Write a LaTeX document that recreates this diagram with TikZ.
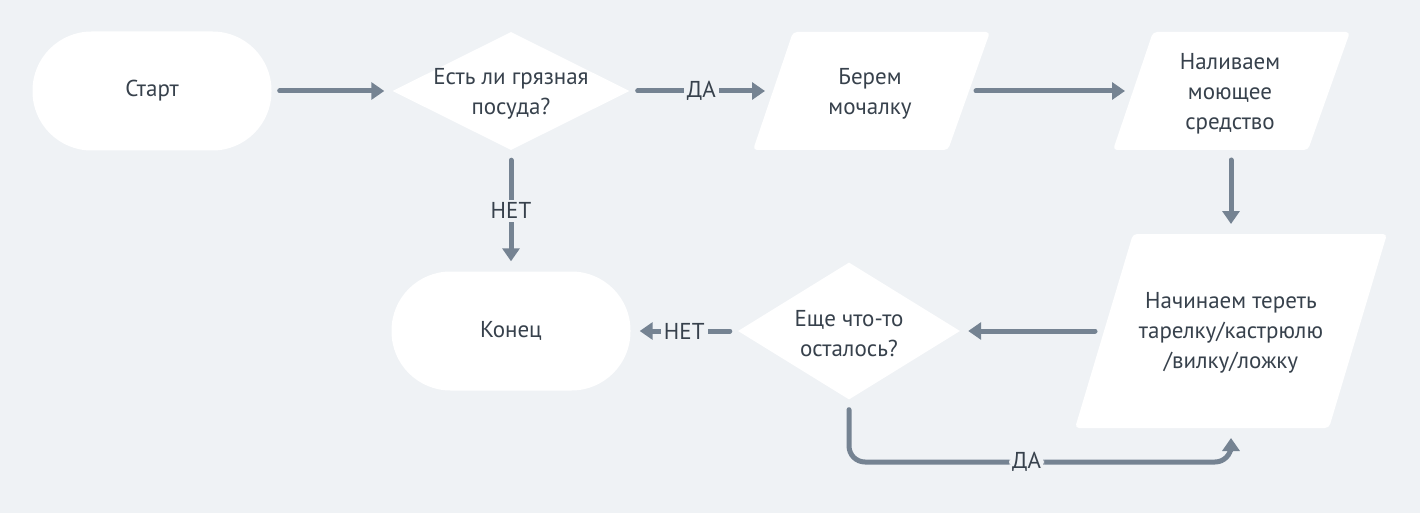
\documentclass[tikz,border=0pt]{standalone}
\usepackage{fontspec}
\setmainfont{PT Sans}
\usetikzlibrary{arrows.meta,shapes.geometric}
\definecolor{bg}{HTML}{EFF2F5}
\definecolor{ln}{HTML}{758392}
\definecolor{tx}{HTML}{37414C}
\begin{document}
\begin{tikzpicture}[x=1pt,y=-1pt,
  term/.style={fill=white, rounded corners=59pt, minimum width=239pt, minimum height=119pt, inner sep=0pt, text=tx, font=\fontsize{23}{30}\selectfont},
  dia/.style={diamond, fill=white, inner sep=0pt},
  txt/.style={text=tx, font=\fontsize{23}{30}\selectfont, align=center, inner sep=0pt},
  para/.style={fill=white, rounded corners=4pt},
  arr/.style={draw=ln, line width=5pt, line cap=round, -{Triangle[width=17pt,length=13pt]}},
  lbl/.style={fill=bg, text=tx, font=\fontsize{23}{24}\selectfont, inner sep=3pt}
]
\fill[bg] (0,0) rectangle (1420,513);
\useasboundingbox (0,0) rectangle (1420,513);

% terminals
\node[term] (start) at (152,91) {Старт};
\node[term] (end) at (511,331) {Конец};

% decisions
\node[dia, minimum width=237pt, minimum height=118pt] (d1) at (511,91) {};
\node[txt] (d1t) at (511,93.5) {Есть ли грязная\\посуда?};
\node[dia, minimum width=222pt, minimum height=137pt] (d2) at (849,331) {};
\node[txt] (d2t) at (849,333.5) {Еще что-то\\осталось?};

% parallelograms
\fill[para] (793,32) -- (990,32) -- (948,150) -- (753,150) -- cycle;
\node[txt] (p1) at (870,93.5) {Берем\\мочалку};
\fill[para] (1153,32) -- (1350,32) -- (1308,150) -- (1113,150) -- cycle;
\node[txt] (p2) at (1230,93.5) {Наливаем\\моющее\\средство};
\fill[para] (1133,234) -- (1387,234) -- (1329,428) -- (1075,428) -- cycle;
\node[txt] (p3) at (1231,332.5) {Начинаем тереть\\тарелку/кастрюлю\\/вилку/ложку};

% edge points of parallelograms
\coordinate (p1w) at (773,91);
\coordinate (p1e) at (970,91);
\coordinate (p2w) at (1133,91);
\coordinate (p2s) at (1231,150);
\coordinate (p3n) at (1231,234);
\coordinate (p3w) at (1104,331);
\coordinate (p3s) at (1231,428);
\coordinate (low) at (0,462);

% connectors
\draw[arr, shorten <=8pt, shorten >=8pt] (start.east) -- (d1.west);
\draw[arr, shorten <=8pt, shorten >=8pt] (d1.east) -- node[lbl]{ДА} (p1w);
\draw[arr, shorten <=6pt, shorten >=8pt] (p1e) -- (p2w);
\draw[arr, shorten <=10pt, shorten >=10pt] (p2s) -- (p3n);
\draw[arr, shorten <=9pt, shorten >=8pt] (p3w) -- (d2.east);
\draw[arr, shorten <=8pt, shorten >=9pt] (d2.west) -- node[lbl]{НЕТ} (end.east);
\draw[arr, shorten <=10pt, shorten >=10pt] (d1.south) -- node[lbl]{НЕТ} (end.north);
\draw[arr, rounded corners=16pt, shorten <=10pt, shorten >=10pt] (d2.south) -- (d2.south |- low) -- node[lbl, pos=0.465]{ДА} (p3s |- low) -- (p3s);
\end{tikzpicture}
\end{document}
